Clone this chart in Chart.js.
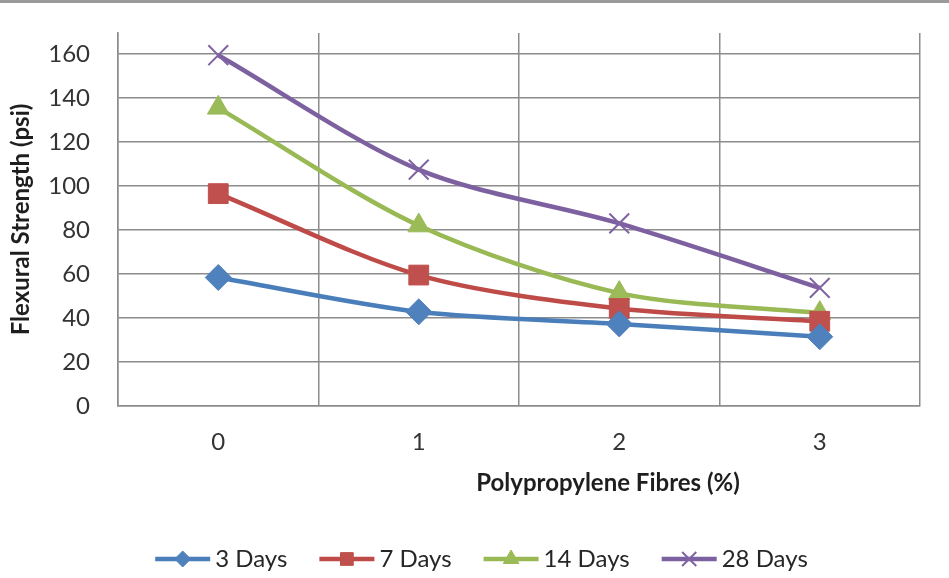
<!DOCTYPE html>
<html>
<head>
<meta charset="utf-8">
<script src="https://cdn.jsdelivr.net/npm/chart.js@4"></script>
<style>
  body{margin:0;background:#fff;}
  #wrap{position:relative;width:949px;height:578px;}
  #topbar{position:absolute;left:0;top:0;width:949px;height:3px;background:#9a9a9a;}
  canvas{position:absolute;left:0;top:0;}
</style>
</head>
<body>
<div id="wrap">
  <canvas id="chart" width="949" height="578"></canvas>
  <div id="topbar"></div>
</div>
<script>
// data
const categories=['0','1','2','3'];
const days3=[58.4,42.8,37.3,31.5];
const days7=[96.5,59.5,44.3,38.5];
const days14=[135.5,82,51.3,42.2];
const days28=[159.4,107.4,83,53.7];
const seriesNames=['3 Days','7 Days','14 Days','28 Days'];
const yTicks=[0,20,40,60,80,100,120,140,160];

const FONT='Lato, "Liberation Sans", sans-serif';
const lineCols=['#4a7ebb','#be4b48','#98b954','#7d60a0'];
const markCols=['#4f81bd','#c0504d','#9bbb59','#8064a2'];
const styles=['rectRot','rect','triangle','crossRot'];
const radii=[13,14,12.5,14];
const legendRadii=[8,9,9,10];

const datasets=[days3,days7,days14,days28].map((d,i)=>({
  label:seriesNames[i],
  data:d,
  borderColor:lineCols[i],
  borderWidth:4.5,
  tension:0.3,
  pointStyle:styles[i],
  pointRadius:radii[i],
  pointBackgroundColor:markCols[i],
  pointBorderColor:markCols[i],
  pointBorderWidth:i===3?2:1
}));

// legend with line + marker, and the moved x title
const extras={
  id:'extras',
  afterDraw(chart){
    const c=chart.ctx;
    c.save();
    c.font='bold 24px '+FONT;
    c.fillStyle='#1e1e1e';
    c.textAlign='center';c.textBaseline='middle';
    c.fillText('Polypropylene Fibres (%)',608,483);

    c.font='24px '+FONT;
    const lineLen=55,gap=5,itemGap=32,y=559;
    const widths=seriesNames.map(s=>lineLen+gap+c.measureText(s).width);
    const total=widths.reduce((a,b)=>a+b,0)+itemGap*(seriesNames.length-1);
    let x=481.5-total/2;
    seriesNames.forEach((s,i)=>{
      c.strokeStyle=lineCols[i];c.lineWidth=4.5;
      c.beginPath();c.moveTo(x,y);c.lineTo(x+lineLen,y);c.stroke();
      c.fillStyle=markCols[i];c.strokeStyle=markCols[i];c.lineWidth=i===3?2:1;
      Chart.helpers.drawPoint(c,{pointStyle:styles[i],radius:legendRadii[i],rotation:0,borderWidth:c.lineWidth},x+lineLen/2,y);
      c.fillStyle='#262626';c.textAlign='left';
      c.fillText(s,x+lineLen+gap,y);
      x+=widths[i]+itemGap;
    });
    c.restore();
  }
};

new Chart(document.getElementById('chart'),{
  type:'line',
  data:{labels:categories,datasets:datasets},
  options:{
    responsive:false,
    animation:false,
    layout:{padding:{left:0,top:33,right:29,bottom:0}},
    plugins:{legend:{display:false},tooltip:{enabled:false}},
    scales:{
      x:{
        offset:true,
        grid:{offset:true,color:'#8c8c8c',lineWidth:1.5,drawTicks:false},
        border:{color:'#8c8c8c',width:1.5},
        ticks:{padding:22,color:'#333',font:{family:FONT,size:24}},
        afterFit(s){s.height=172;s.paddingLeft=0;s.paddingRight=0;}
      },
      y:{
        min:0,max:169.5,
        grid:{color:'#8c8c8c',lineWidth:1.5,drawTicks:false},
        border:{color:'#8c8c8c',width:1.5},
        ticks:{stepSize:20,padding:28,color:'#333',font:{family:FONT,size:24}},
        afterBuildTicks(s){s.ticks=yTicks.map(v=>({value:v}));},
        title:{display:true,text:'Flexural Strength (psi)',color:'#1e1e1e',
          font:{family:FONT,size:24,weight:'bold'},padding:{top:7,bottom:0}},
        afterFit(s){s.width=118;s.paddingTop=0;s.paddingBottom=0;}
      }
    }
  },
  plugins:[extras]
});
</script>
</body>
</html>
